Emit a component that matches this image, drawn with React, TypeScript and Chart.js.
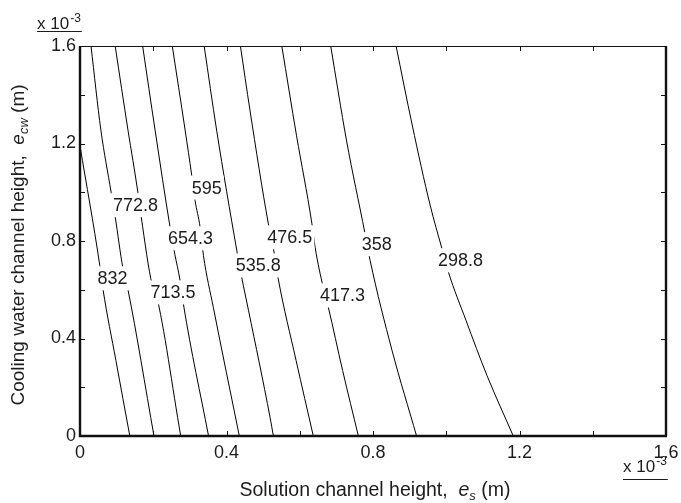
import React, { useEffect, useRef } from "react";
import { Chart, registerables } from "chart.js";

Chart.register(...registerables);

const FONT = '"Liberation Sans", Arial, Helvetica, sans-serif';
const INK = "#1c1c1c";

// Contour levels, from the left (highest) to the right (lowest)
const contourLevels = [832, 772.8, 713.5, 654.3, 595, 535.8, 476.5, 417.3, 358, 298.8];

// Contour paths as [e_s, e_cw] pairs, both in units of 1e-3 m
const contour832: [number, number][] = [[0, 1.19], [0.054, 0.7], [0.063, 0.6], [0.098, 0.31], [0.136, 0]];
const contour772_8: [number, number][] = [[0.03, 1.6], [0.057, 1.255], [0.085, 1.0], [0.096, 0.9], [0.117, 0.69], [0.131, 0.6], [0.202, 0]];
const contour713_5: [number, number][] = [[0.096, 1.6], [0.131, 1.255], [0.158, 1.0], [0.167, 0.9], [0.197, 0.62], [0.2075, 0.585], [0.275, 0]];
const contour654_3: [number, number][] = [[0.171, 1.6], [0.205, 1.255], [0.246, 0.856], [0.259, 0.745], [0.273, 0.64], [0.282, 0.544], [0.351, 0]];
const contour595: [number, number][] = [[0.252, 1.6], [0.287, 1.255], [0.305, 1.07], [0.314, 0.967], [0.328, 0.856], [0.337, 0.741], [0.364, 0.528], [0.435, 0]];
const contour535_8: [number, number][] = [[0.339, 1.6], [0.373, 1.255], [0.428, 0.762], [0.4415, 0.651], [0.46, 0.516], [0.519, 0.076], [0.528, 0]];
const contour476_5: [number, number][] = [[0.438, 1.6], [0.464, 1.337], [0.514, 0.873], [0.528, 0.77], [0.541, 0.647], [0.59, 0.31], [0.637, 0]];
const contour417_3: [number, number][] = [[0.551, 1.6], [0.591, 1.234], [0.633, 0.873], [0.642, 0.774], [0.664, 0.61], [0.678, 0.528], [0.717, 0.269], [0.76, 0]];
const contour358: [number, number][] = [[0.6845, 1.6], [0.7275, 1.214], [0.778, 0.832], [0.792, 0.721], [0.852, 0.351], [0.919, 0]];
const contour298_8: [number, number][] = [[0.863, 1.6], [0.907, 1.276], [0.956, 0.947], [0.988, 0.77], [1.006, 0.672], [1.054, 0.474], [1.111, 0.249], [1.183, 0]];

const contourPaths = [
  contour832, contour772_8, contour713_5, contour654_3, contour595,
  contour535_8, contour476_5, contour417_3, contour358, contour298_8,
];

// Centre of each inline level label, [e_s, e_cw] in units of 1e-3 m
const labelAnchors: [number, number][] = [
  [0.089, 0.647], [0.1515, 0.947], [0.254, 0.589], [0.302, 0.811], [0.346, 1.019],
  [0.487, 0.7], [0.573, 0.815], [0.717, 0.577], [0.81, 0.787], [1.039, 0.721],
];

// Axis range and tick spacing (1e-3 m)
const axisMin = 0;
const axisMax = 1.6;
const tickStep = 0.2;
const labelStep = 0.4;

type Part = { t: string; italic?: boolean; sub?: boolean };

const xTitle: Part[] = [
  { t: "Solution channel height,  " },
  { t: "e", italic: true },
  { t: "s", italic: true, sub: true },
  { t: " (m)" },
];
const yTitle: Part[] = [
  { t: "Cooling water channel height,  " },
  { t: "e", italic: true },
  { t: "cw", italic: true, sub: true },
  { t: " (m)" },
];

const SUB_SIZE = 13;

function partFont(p: Part, size: number) {
  return `${p.italic ? "italic " : ""}${p.sub ? SUB_SIZE : size}px ${FONT}`;
}

function drawParts(ctx: CanvasRenderingContext2D, parts: Part[], cx: number, baseY: number, size: number) {
  let total = 0;
  const widths = parts.map((p) => {
    ctx.font = partFont(p, size);
    const w = ctx.measureText(p.t).width;
    total += w;
    return w;
  });
  let x = cx - total / 2;
  ctx.textAlign = "left";
  ctx.textBaseline = "alphabetic";
  parts.forEach((p, i) => {
    ctx.font = partFont(p, size);
    ctx.fillText(p.t, x, baseY + (p.sub ? 4 : 0));
    x += widths[i];
  });
}

function drawExponent(ctx: CanvasRenderingContext2D, x: number, baseY: number, lineY: number) {
  ctx.textAlign = "left";
  ctx.textBaseline = "alphabetic";
  ctx.font = `17px ${FONT}`;
  const base = "x 10";
  ctx.fillText(base, x, baseY);
  const w1 = ctx.measureText(base).width;
  ctx.font = `12px ${FONT}`;
  ctx.fillText("-3", x + w1 + 1, baseY - 7);
  const w2 = ctx.measureText("-3").width;
  ctx.fillRect(x, lineY, w1 + w2 + 2, 1);
}

const contourPlugin = {
  id: "contourDecor",
  afterDatasetsDraw(chart: any) {
    const { ctx, scales } = chart;
    const xs = scales.x;
    const ys = scales.y;
    ctx.save();
    ctx.font = `18px ${FONT}`;
    ctx.textAlign = "center";
    ctx.textBaseline = "middle";
    contourLevels.forEach((lv, i) => {
      const [ax, ay] = labelAnchors[i];
      const px = xs.getPixelForValue(ax);
      const py = ys.getPixelForValue(ay);
      const txt = String(lv);
      const w = ctx.measureText(txt).width;
      ctx.fillStyle = "#fff";
      ctx.fillRect(px - w / 2 - 2, py - 12, w + 4, 24);
      ctx.fillStyle = INK;
      ctx.fillText(txt, px, py + 1);
    });
    ctx.restore();
  },
  afterDraw(chart: any) {
    const { ctx, chartArea: a, scales } = chart;
    const xs = scales.x;
    const ys = scales.y;
    ctx.save();
    ctx.strokeStyle = "#111";
    ctx.fillStyle = INK;

    // inward tick marks on all four sides
    ctx.lineWidth = 1;
    ctx.beginPath();
    xs.ticks.forEach((t: any) => {
      const px = Math.round(xs.getPixelForValue(t.value)) + 0.5;
      ctx.moveTo(px, a.bottom);
      ctx.lineTo(px, a.bottom - 5);
      ctx.moveTo(px, a.top);
      ctx.lineTo(px, a.top + 5);
    });
    ys.ticks.forEach((t: any) => {
      const py = Math.round(ys.getPixelForValue(t.value)) + 0.5;
      ctx.moveTo(a.left, py);
      ctx.lineTo(a.left + 5, py);
      ctx.moveTo(a.right, py);
      ctx.lineTo(a.right - 5, py);
    });
    ctx.stroke();

    // frame
    ctx.beginPath();
    ctx.moveTo(a.left, a.top + 0.5);
    ctx.lineTo(a.right, a.top + 0.5);
    ctx.stroke();
    ctx.lineWidth = 2.4;
    ctx.beginPath();
    ctx.moveTo(a.right, a.top);
    ctx.lineTo(a.right, a.bottom);
    ctx.moveTo(a.left, a.top);
    ctx.lineTo(a.left, a.bottom);
    ctx.lineTo(a.right + 1, a.bottom);
    ctx.stroke();

    // axis titles
    drawParts(ctx, xTitle, (a.left + a.right) / 2 + 2, 496, 19.5);
    ctx.save();
    ctx.translate(24, (a.top + a.bottom) / 2 + 4);
    ctx.rotate(-Math.PI / 2);
    drawParts(ctx, yTitle, 0, 0, 19);
    ctx.restore();

    // scale factor notes
    drawExponent(ctx, 37, 29, 31);
    drawExponent(ctx, 623, 472, 479);
    ctx.restore();
  },
};

function formatTick(value: number) {
  const k = value / labelStep;
  if (Math.abs(k - Math.round(k)) > 1e-6) return "";
  return String(Number(value.toFixed(1)));
}

export default function App() {
  const canvasRef = useRef<HTMLCanvasElement | null>(null);

  useEffect(() => {
    const canvas = canvasRef.current;
    if (!canvas) return;
    const datasets = contourPaths.map((path, i) => ({
      label: String(contourLevels[i]),
      data: path.map(([x, y]) => ({ x, y })),
      showLine: true,
      borderColor: "#000",
      borderWidth: 1,
      pointRadius: 0,
      pointHoverRadius: 0,
      cubicInterpolationMode: "monotone" as const,
      fill: false,
    }));

    const tickFont = { family: FONT, size: 18 };
    const chart = new Chart(canvas, {
      type: "scatter",
      data: { datasets },
      options: {
        animation: false,
        responsive: false,
        devicePixelRatio: 1,
        layout: { padding: { left: 0, top: 46, right: 15, bottom: 0 } },
        plugins: { legend: { display: false }, tooltip: { enabled: false } },
        events: [],
        scales: {
          x: {
            type: "linear",
            min: axisMin,
            max: axisMax,
            grid: { display: false, drawTicks: false },
            border: { display: false },
            ticks: {
              stepSize: tickStep,
              autoSkip: false,
              maxRotation: 0,
              padding: 6,
              color: INK,
              font: tickFont,
              callback: (v: any) => formatTick(Number(v)),
            },
            afterFit: (scale: any) => {
              scale.height = 67;
              scale.paddingLeft = 0;
              scale.paddingRight = 0;
            },
          },
          y: {
            type: "linear",
            min: axisMin,
            max: axisMax,
            grid: { display: false, drawTicks: false },
            border: { display: false },
            ticks: {
              stepSize: tickStep,
              autoSkip: false,
              padding: 4,
              color: INK,
              font: tickFont,
              callback: (v: any) => formatTick(Number(v)),
            },
            afterFit: (scale: any) => {
              scale.width = 80;
              scale.paddingTop = 0;
              scale.paddingBottom = 0;
            },
          },
        },
      },
      plugins: [contourPlugin],
    });
    return () => chart.destroy();
  }, []);

  return (
    <div style={{ position: "absolute", left: 0, top: 0, width: 681, height: 503, background: "#fff" }}>
      <canvas ref={canvasRef} width={681} height={503} style={{ display: "block" }} />
    </div>
  );
}
